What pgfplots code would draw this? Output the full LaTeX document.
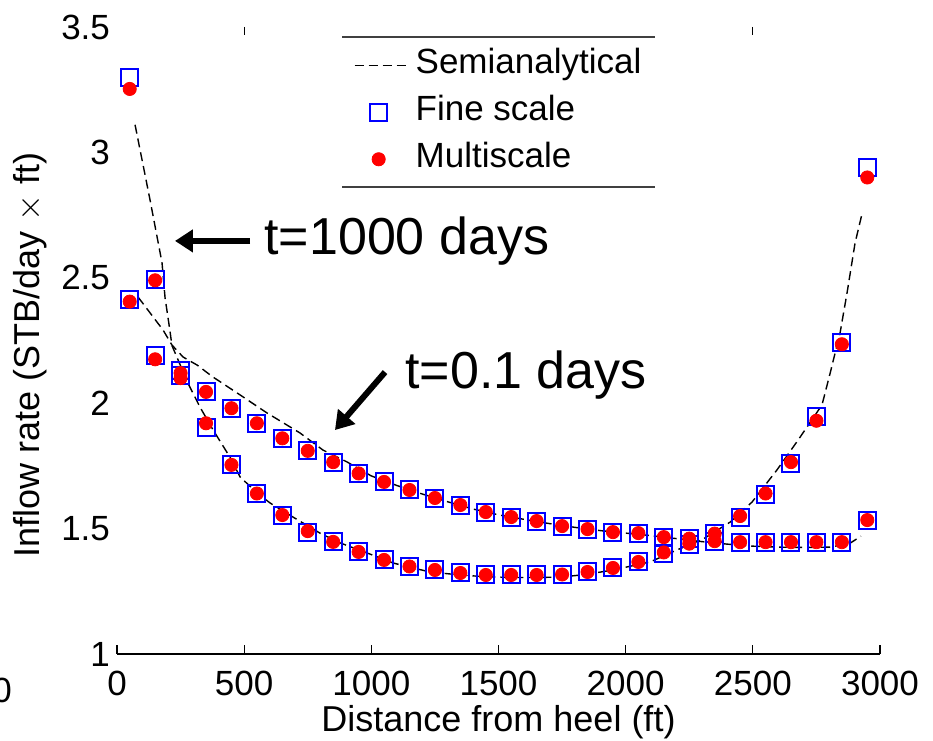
\documentclass[border=0pt]{standalone}
\usepackage{pgfplots}
\pgfplotsset{compat=1.18}
\usepackage{pgfplotstable}
\usepackage{fontspec}
\setmainfont{Liberation Sans}
\usetikzlibrary{arrows.meta}

\pgfplotsset{
  linelegend/.style={legend image code/.code={\draw[##1] (0pt,0pt) -- (27.5pt,0pt);}},
  marklegend/.style={legend image code/.code={\path (0pt,0pt) (27.5pt,0pt); \draw[##1] plot coordinates {(12pt,0pt)};}},
}

\pgfplotstableread{
x y
71 3.11
130 2.81
177 2.56
189 2.42
208 2.29
216 2.23
279 2.08
326 1.985
378 1.893
444 1.785
484 1.706
551 1.642
602 1.602
692 1.546
798 1.482
877 1.443
983 1.403
1085 1.363
1164 1.343
1231 1.327
1350 1.315
1450 1.308
1550 1.305
1650 1.305
1750 1.307
1850 1.318
1950 1.335
2096 1.367
2202 1.415
2304 1.458
2411 1.526
2497 1.606
2595 1.734
2678 1.853
2772 1.993
2804 2.12
2843 2.28
2871 2.443
2902 2.639
2930 2.758
}\semiLate

\pgfplotstableread{
x y
83 2.423
142 2.344
181 2.292
216 2.232
260 2.184
315 2.152
378 2.104
472 2.041
590 1.961
720 1.881
810 1.813
904 1.766
1000 1.71
1100 1.672
1200 1.638
1300 1.607
1400 1.578
1500 1.555
1600 1.537
1700 1.52
1800 1.505
1900 1.492
2000 1.482
2100 1.472
2200 1.460
2300 1.448
2400 1.438
2500 1.43
2600 1.426
2700 1.425
2800 1.426
2880 1.44
2925 1.47
}\semiEarly

\pgfplotstableread{
x fs ms
50 3.30 3.253
150 2.495 2.49
250 2.11 2.10
350 1.905 1.92
450 1.754 1.754
550 1.64 1.64
650 1.554 1.554
750 1.486 1.49
850 1.447 1.447
950 1.407 1.407
1050 1.375 1.375
1150 1.349 1.349
1250 1.335 1.335
1350 1.323 1.323
1450 1.315 1.315
1550 1.315 1.315
1650 1.315 1.315
1750 1.315 1.317
1850 1.327 1.327
1950 1.343 1.343
2050 1.367 1.367
2150 1.40 1.405
2250 1.435 1.44
2350 1.48 1.48
2450 1.546 1.55
2550 1.634 1.64
2650 1.76 1.765
2750 1.945 1.93
2850 2.244 2.235
2950 2.938 2.90
}\ptsLate

\pgfplotstableread{
x fs ms
50 2.415 2.405
150 2.19 2.175
250 2.13 2.12
350 2.045 2.045
450 1.98 1.98
550 1.92 1.92
650 1.86 1.86
750 1.81 1.81
850 1.765 1.765
950 1.72 1.72
1050 1.686 1.686
1150 1.654 1.654
1250 1.622 1.622
1350 1.594 1.594
1450 1.566 1.566
1550 1.546 1.546
1650 1.53 1.53
1750 1.51 1.51
1850 1.498 1.498
1950 1.486 1.486
2050 1.482 1.482
2150 1.466 1.466
2250 1.46 1.46
2350 1.45 1.45
2450 1.446 1.446
2550 1.446 1.446
2650 1.446 1.446
2750 1.446 1.446
2850 1.446 1.446
2950 1.534 1.534
}\ptsEarly

\begin{document}
\begin{tikzpicture}[x=1pt,y=1pt]
\useasboundingbox (0,0) rectangle (466.5,370);
\node[font=\fontsize{17.5}{20}\selectfont] at (1,25) {0};
\begin{axis}[
  at={(58.5pt,43pt)}, anchor=south west,
  scale only axis, width=381.5pt, height=313.5pt,
  xmin=0, xmax=3000, ymin=1, ymax=3.5,
  xtick={0,500,...,3000}, ytick={1,1.5,2,2.5,3,3.5},
  scaled x ticks=false,
  /pgf/number format/1000 sep={},
  /pgf/number format/assume math mode=true,
  axis line style={draw=none},
  xtick pos=bottom, xtick align=inside,
  xtick style={black, line width=0.6pt},
  ytick style={draw=none},
  major tick length=4.25pt,
  tick label style={font=\fontsize{17.5}{20}\selectfont},
  xticklabel style={yshift=-5pt},
  xlabel={Distance from heel (ft)},
  ylabel={Inflow rate (STB/day $\times$ ft)},
  xlabel style={font=\fontsize{18}{20}\selectfont, at={(axis description cs:0.5,-0.109)}, anchor=center},
  ylabel style={font=\fontsize{18}{20}\selectfont, at={(axis description cs:-0.114,0.477)}, anchor=center},
  legend style={at={(rel axis cs:0.5,0.864)}, anchor=center, draw=none, fill=none,
    font=\fontsize{17.5}{21}\selectfont, row sep=5pt, column sep=1.5pt,
    nodes={inner sep=1pt, text height=12.6pt, text depth=3.9pt}},
  legend cell align=left,
  clip=false,
]
\addplot[black, line width=0.7pt, dash pattern=on 4.5pt off 2.5pt, linelegend]
  table[x=x,y=y] {\semiLate};
\addlegendentry{Semianalytical}
\addplot[black, line width=0.7pt, dash pattern=on 4.5pt off 2.5pt, forget plot]
  table[x=x,y=y] {\semiEarly};

\addplot[only marks, mark=square, mark size=4.25pt, blue, line width=1pt, marklegend]
  table[x=x,y=fs] {\ptsLate};
\addlegendentry{Fine scale}
\addplot[only marks, mark=square, mark size=4.25pt, blue, line width=1pt, forget plot]
  table[x=x,y=fs] {\ptsEarly};

\addplot[only marks, mark=*, mark size=3.3pt, red, mark options={draw=red, fill=red}, marklegend]
  table[x=x,y=ms] {\ptsLate};
\addlegendentry{Multiscale}
\addplot[only marks, mark=*, mark size=3.3pt, red, mark options={draw=red, fill=red}, forget plot]
  table[x=x,y=ms] {\ptsEarly};

% axis frame pieces
\draw[black, line width=0.7pt] (rel axis cs:0,0) -- (rel axis cs:1,0);
\draw[black, line width=0.6pt] (axis cs:500,3.5) -- ([yshift=-4.25pt]axis cs:500,3.5);
\draw[black, line width=0.6pt] (axis cs:2500,3.5) -- ([yshift=-4.25pt]axis cs:2500,3.5);
% legend box lines
\draw[black!75, line width=0.8pt] (rel axis cs:0.295,0.984) -- (rel axis cs:0.705,0.984);
\draw[black!75, line width=0.8pt] (rel axis cs:0.295,0.745) -- (rel axis cs:0.705,0.745);
% annotations
\draw[line width=3pt, -{Triangle[length=9pt,width=11pt]}] (axis cs:523,2.647) -- (axis cs:228,2.647);
\node[anchor=west, inner sep=0pt, font=\fontsize{26}{30}\selectfont] at (axis cs:578,2.647) {t=1000 days};
\draw[line width=3pt, -{Triangle[length=9pt,width=11pt]}] (axis cs:1054,2.124) -- (axis cs:857,1.893);
\node[anchor=west, inner sep=0pt, font=\fontsize{26}{30}\selectfont] at (axis cs:1132,2.112) {t=0.1 days};
\end{axis}
\end{tikzpicture}
\end{document}
